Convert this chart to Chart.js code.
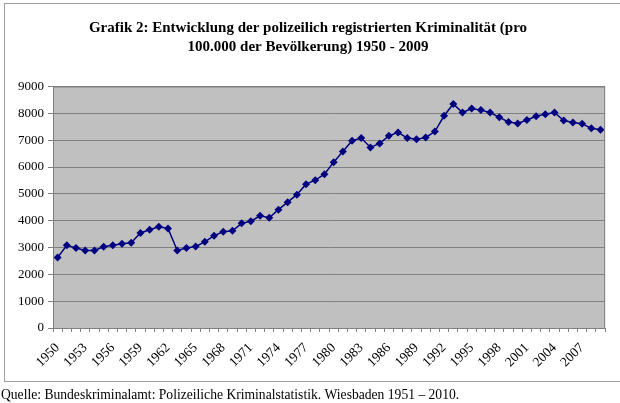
<!DOCTYPE html>
<html lang="de">
<head>
<meta charset="utf-8">
<title>Entwicklung der polizeilich registrierten Kriminalität</title>
<script src="https://cdn.jsdelivr.net/npm/chart.js@4.4.1/dist/chart.umd.min.js"></script>
<style>
  html, body { margin: 0; padding: 0; background: #fff; }
  #wrap { position: relative; width: 620px; height: 403px; }
</style>
</head>
<body>
<div id="wrap"><canvas id="kriminalChart" width="620" height="403"></canvas></div>
<script>
// Häufigkeitszahl (Fälle pro 100.000 Einwohner), 1950 - 2009
const years = [];
for (let y = 1950; y <= 2009; y++) years.push(String(y));

const haeufigkeit = [
    2630, 3080, 2980, 2890, 2890, 3030, 3080, 3140, 3180, 3540,
    3660, 3770, 3710, 2890, 2980, 3040, 3210, 3440, 3590, 3620,
    3900, 3980, 4180, 4110, 4410, 4690, 4970, 5360, 5510, 5730,
    6180, 6580, 6980, 7080, 6730, 6880, 7160, 7290, 7080, 7030,
    7100, 7320, 7910, 8350, 8030, 8180, 8120, 8030, 7850, 7680,
    7620, 7750, 7890, 7970, 8030, 7730, 7660, 7610, 7440, 7390
];

const yTicks = [0, 1000, 2000, 3000, 4000, 5000, 6000, 7000, 8000, 9000];

const titleLines = [
    'Grafik 2: Entwicklung der polizeilich registrierten Kriminalität (pro',
    '100.000 der Bevölkerung) 1950 - 2009'
];
const sourceText = 'Quelle: Bundeskriminalamt: Polizeiliche Kriminalstatistik. Wiesbaden 1951 – 2010.';

const serif = "'Liberation Serif', 'DejaVu Serif', serif";

// grey plot background + outer frame + source line
const excelLook = {
    id: 'excelLook',
    beforeDraw(chart) {
        const { ctx, chartArea: a } = chart;
        ctx.save();
        ctx.fillStyle = '#c0c0c0';
        ctx.fillRect(a.left, a.top, a.right - a.left, a.bottom - a.top);
        ctx.restore();
    },
    afterDraw(chart) {
        const { ctx, chartArea: a } = chart;
        ctx.save();
        ctx.strokeStyle = '#808080';
        ctx.lineWidth = 1;
        ctx.strokeRect(a.left + 0.5, a.top + 0.5, a.right - a.left - 1, a.bottom - a.top);
        ctx.strokeStyle = '#a0a0a0';
        ctx.strokeRect(4.5, 3.5, 640, 378);
        ctx.fillStyle = '#000';
        ctx.font = '13.6px ' + serif;
        ctx.textBaseline = 'middle';
        ctx.textAlign = 'left';
        ctx.fillText(sourceText, 1, 395);
        ctx.restore();
    }
};

document.addEventListener('DOMContentLoaded', () => {
    const ctx = document.getElementById('kriminalChart');
    new Chart(ctx, {
        type: 'line',
        data: {
            labels: years,
            datasets: [{
                label: 'Häufigkeitszahl',
                data: haeufigkeit,
                borderColor: '#000080',
                backgroundColor: '#000080',
                borderWidth: 1.5,
                pointStyle: 'rectRot',
                pointRadius: 4,
                pointBorderWidth: 0,
                pointBackgroundColor: '#000080',
                tension: 0
            }]
        },
        options: {
            responsive: false,
            animation: false,
            devicePixelRatio: 1,
            layout: { padding: { left: 0, right: 4, top: 0, bottom: 0 } },
            plugins: {
                legend: { display: false },
                tooltip: { enabled: false },
                title: {
                    display: true,
                    text: titleLines,
                    color: '#000',
                    font: { family: serif, size: 15, weight: 'bold', lineHeight: 1.25 },
                    padding: { top: 19, bottom: 30 }
                }
            },
            scales: {
                x: {
                    type: 'category',
                    offset: true,
                    grid: {
                        offset: true,
                        drawOnChartArea: false,
                        drawTicks: true,
                        tickLength: 4,
                        tickColor: '#808080'
                    },
                    border: { color: '#808080' },
                    ticks: {
                        autoSkip: false,
                        maxRotation: 45,
                        minRotation: 45,
                        padding: 8,
                        color: '#000',
                        font: { family: serif, size: 13.5 },
                        callback: (v, i) => (i % 3 === 0 ? years[i] : '')
                    },
                    afterFit: (scale) => { scale.height = 75; }
                },
                y: {
                    min: 0,
                    max: 9000,
                    afterBuildTicks: (scale) => { scale.ticks = yTicks.map(v => ({ value: v })); },
                    grid: {
                        color: '#808080',
                        drawTicks: true,
                        tickLength: 5,
                        tickColor: '#808080'
                    },
                    border: { color: '#808080' },
                    ticks: {
                        padding: 4,
                        color: '#000',
                        font: { family: serif, size: 13 },
                        callback: (v) => String(v)
                    },
                    afterFit: (scale) => { scale.width = 53; }
                }
            }
        },
        plugins: [excelLook]
    });
});
</script>
</body>
</html>
